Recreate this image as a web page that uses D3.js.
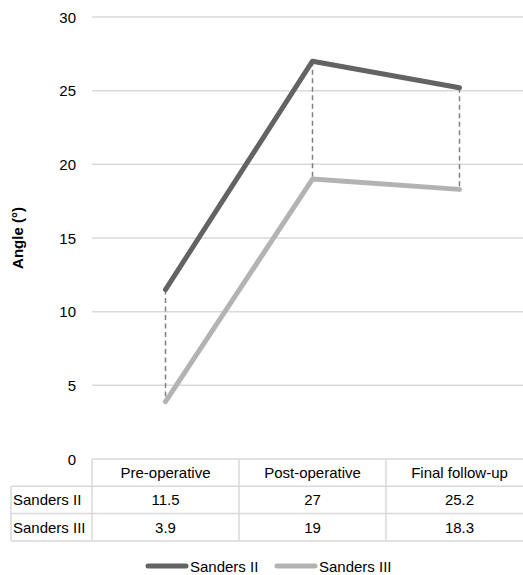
<!DOCTYPE html>
<html><head><meta charset="utf-8">
<script src="https://cdn.jsdelivr.net/npm/d3@7"></script>
<style>body{margin:0;background:#fff;}svg{display:block;font-family:"Liberation Sans",Arial,sans-serif;}</style>
</head><body><svg id="c" width="523" height="575"></svg>
<script>
const categories = ["Pre-operative", "Post-operative", "Final follow-up"];
const seriesNames = ["Sanders II", "Sanders III"];
const sandersII = [11.5, 27, 25.2];
const sandersIII = [3.9, 19, 18.3];
const yTicks = [0, 5, 10, 15, 20, 25, 30];
const colors = ["#636363", "#b3b3b3"];

(function () {
const svg = d3.select("#c");
const fs = 15;
const pLeft = 92, pRight = 533, pTop = 17, pBottom = 459;
const x = d3.scaleBand().domain(categories).range([pLeft, pRight]).padding(0);
const y = d3.scaleLinear().domain([0, 30]).range([pBottom, pTop]);
const cx = c => x(c) + x.bandwidth() / 2;

svg.append("g").selectAll("line").data(yTicks.filter(t => t > 0)).join("line")
  .attr("x1", pLeft).attr("x2", pRight).attr("y1", d => y(d)).attr("y2", d => y(d))
  .attr("stroke", "#d9d9d9").attr("stroke-width", 1.5);

svg.append("g").selectAll("text").data(yTicks).join("text")
  .attr("x", 76).attr("y", d => y(d) + 5.5).attr("text-anchor", "end")
  .attr("font-size", fs).attr("fill", "#000").text(d => d);

svg.append("text").attr("transform", `translate(23,${(pTop + pBottom) / 2}) rotate(-90)`)
  .attr("text-anchor", "middle").attr("font-size", fs).attr("font-weight", "bold").text("Angle (°)");

svg.append("g").selectAll("line").data(categories).join("line")
  .attr("x1", d => cx(d)).attr("x2", d => cx(d))
  .attr("y1", (d, i) => y(sandersII[i])).attr("y2", (d, i) => y(sandersIII[i]))
  .attr("stroke", "#7f7f7f").attr("stroke-width", 1.5).attr("stroke-dasharray", "5,3.5");

const series = [sandersII, sandersIII];
const line = d3.line().x((d, i) => cx(categories[i])).y(d => y(d));
series.forEach((s, k) => {
  svg.append("path").attr("d", line(s)).attr("fill", "none")
    .attr("stroke", colors[k]).attr("stroke-width", 5).attr("stroke-linejoin", "round").attr("stroke-linecap", "round");
});

const rowH = 27.3;
const tcol = "#d9d9d9";
const tg = svg.append("g");
const tableLeft = 11;
tg.append("line").attr("x1", pLeft).attr("x2", pRight).attr("y1", pBottom).attr("y2", pBottom).attr("stroke", tcol).attr("stroke-width", 1.5);
[1, 2, 3].forEach(r => {
  tg.append("line").attr("x1", tableLeft).attr("x2", pRight).attr("y1", pBottom + r * rowH).attr("y2", pBottom + r * rowH).attr("stroke", tcol).attr("stroke-width", 1.5);
});
tg.append("line").attr("x1", tableLeft).attr("x2", tableLeft).attr("y1", pBottom + rowH).attr("y2", pBottom + 3 * rowH).attr("stroke", tcol).attr("stroke-width", 1.5);
categories.forEach(c => {
  tg.append("line").attr("x1", x(c)).attr("x2", x(c)).attr("y1", pBottom).attr("y2", pBottom + 3 * rowH).attr("stroke", tcol).attr("stroke-width", 1.5);
});
tg.selectAll("text.h").data(categories).join("text").attr("class", "h")
  .attr("x", d => cx(d)).attr("y", pBottom + rowH / 2 + 5.5).attr("text-anchor", "middle").attr("font-size", fs).text(d => d);
series.forEach((s, k) => {
  const yy = pBottom + (k + 1) * rowH + rowH / 2 + 5.5;
  tg.append("text").attr("x", tableLeft + 2).attr("y", yy).attr("font-size", fs).text(seriesNames[k]);
  tg.selectAll("text.v" + k).data(s).join("text").attr("class", "v" + k)
    .attr("x", (d, i) => cx(categories[i])).attr("y", yy).attr("text-anchor", "middle").attr("font-size", fs).text(d => d);
});

const legX = [146, 275];
seriesNames.forEach((n, k) => {
  svg.append("line").attr("x1", legX[k] + 2).attr("x2", legX[k] + 40).attr("y1", 566).attr("y2", 566)
    .attr("stroke", colors[k]).attr("stroke-width", 5).attr("stroke-linecap", "round");
  svg.append("text").attr("x", legX[k] + 44).attr("y", 571.5).attr("font-size", fs).text(n);
});
})();
</script></body></html>
